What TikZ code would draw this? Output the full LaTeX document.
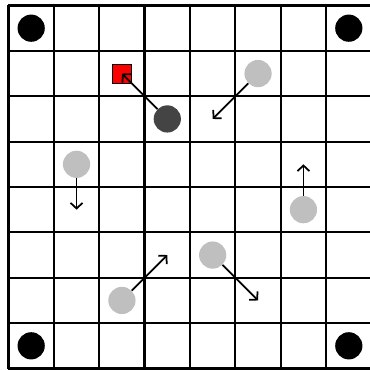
\documentclass[tikz,border=0pt]{standalone}
\usepackage{xcolor}
\usetikzlibrary{arrows.meta}
\definecolor{pawngray}{HTML}{BFBFBF}
\definecolor{kinggray}{HTML}{444444}
\definecolor{goalred}{HTML}{FF0000}
\tikzset{
  board/.style={line width=1.4pt, color=black},
  corner/.style={circle, fill=black, minimum size=0.6cm, inner sep=0pt},
  agent/.style={circle, fill=#1, minimum size=0.6cm, inner sep=0pt},
  agent/.default=pawngray,
  goal/.style={rectangle, draw=black, thin, fill=goalred,
    minimum size=0.42cm, inner sep=0pt},
  move/.style={-{Straight Barb[length=3.5pt,width=7.5pt]}, line width=1.1pt}
}
\begin{document}
\begin{tikzpicture}
  \useasboundingbox (-0.187,-0.033) rectangle (7.963,8.121);
  \clip (-0.187,-0.033) rectangle (7.963,8.121);

  % board
  \draw[board] (0,0) grid (8,8);

  % corners
  \node[corner] (c1) at (0.5,7.5) {};
  \node[corner] (c2) at (7.5,7.5) {};
  \node[corner] (c3) at (0.5,0.5) {};
  \node[corner] (c4) at (7.5,0.5) {};

  % goal and leader
  \node[goal] (target) at (2.5,6.5) {};
  \node[agent=kinggray] (lead) at (3.5,5.5) {};
  \draw[move] (lead) -- (target.center);

  % followers
  \node[agent] (a1) at (5.5,6.5) {};
  \node[agent] (a2) at (1.5,4.5) {};
  \node[agent] (a3) at (6.5,3.5) {};
  \node[agent] (a4) at (2.5,1.5) {};
  \node[agent] (a5) at (4.5,2.5) {};
  \coordinate (t1) at (4.5,5.5);
  \coordinate (t2) at (1.5,3.5);
  \coordinate (t3) at (6.5,4.5);
  \coordinate (t4) at (3.5,2.5);
  \coordinate (t5) at (5.5,1.5);
  \foreach \i in {1,...,5}
    \draw[move] (a\i) -- (t\i);
\end{tikzpicture}
\end{document}
